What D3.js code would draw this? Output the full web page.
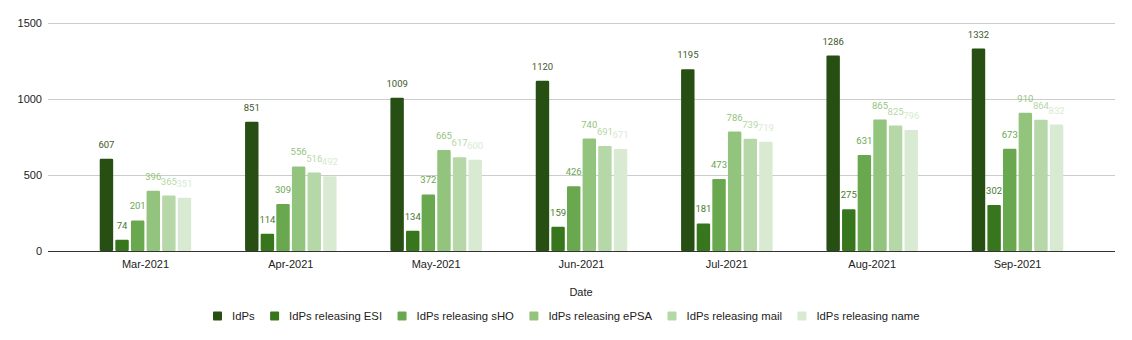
<!DOCTYPE html>
<html>
<head>
<meta charset="utf-8">
<script src="https://cdn.jsdelivr.net/npm/d3@7"></script>
<style>
  html, body { margin: 0; padding: 0; background: #fff; }
  svg { display: block; }
</style>
</head>
<body>
<svg id="chart" width="1132" height="340"></svg>
<script>
const months = ["Mar-2021", "Apr-2021", "May-2021", "Jun-2021", "Jul-2021", "Aug-2021", "Sep-2021"];
const seriesNames = ["IdPs", "IdPs releasing ESI", "IdPs releasing sHO", "IdPs releasing ePSA", "IdPs releasing mail", "IdPs releasing name"];
const idps = [607, 851, 1009, 1120, 1195, 1286, 1332];
const esi = [74, 114, 134, 159, 181, 275, 302];
const sho = [201, 309, 372, 426, 473, 631, 673];
const epsa = [396, 556, 665, 740, 786, 865, 910];
const mail = [365, 516, 617, 691, 739, 825, 864];
const name = [351, 492, 600, 671, 719, 796, 832];
const yTicks = [0, 500, 1000, 1500];
const colors = ["#274e13", "#38761d", "#6aa84f", "#93c47d", "#b6d7a8", "#d9ead3"];
const labelColors = ["#3b5a2a", "#4a7a30", "#6aa84f", "#93c47d", "#b6d7a8", "#d9ead3"];

const seriesValues = [idps, esi, sho, epsa, mail, name];

const svg = d3.select("#chart");
const plotLeft = 48, plotRight = 1115;

const y = d3.scaleLinear().domain([0, 1500]).range([251, 23]);
const x0 = d3.scaleBand().domain(months).range([72.8, 1090.2]).padding(0);
const groupW = 91.5;
const x1 = d3.scaleBand().domain(seriesNames).range([0, groupW]).paddingInner(0.14).paddingOuter(0);

// gridlines
svg.append("g").selectAll("line").data(yTicks.filter(d => d !== 0)).join("line")
  .attr("x1", plotLeft).attr("x2", plotRight)
  .attr("y1", d => y(d)).attr("y2", d => y(d))
  .attr("stroke", "#cccccc").attr("stroke-width", 1).attr("shape-rendering", "crispEdges");

// y labels
svg.append("g").selectAll("text").data(yTicks).join("text")
  .attr("x", 42).attr("y", d => y(d)).attr("dy", "0.35em")
  .attr("text-anchor", "end")
  .attr("font-family", "Arial, 'Liberation Sans', sans-serif").attr("font-size", 11)
  .attr("fill", "#222").text(d => d);

// bars
const groups = svg.append("g").selectAll("g").data(months).join("g")
  .attr("transform", m => `translate(${x0(m) + x0.bandwidth() / 2 - groupW / 2},0)`);

groups.each(function(m, i) {
  const g = d3.select(this);
  seriesNames.forEach((s, k) => {
    const v = seriesValues[k][i];
    g.append("rect")
      .attr("x", x1(s)).attr("width", x1.bandwidth())
      .attr("y", y(v)).attr("height", y(0) - y(v))
      .attr("rx", 1.2).attr("ry", 1.2)
      .attr("fill", colors[k]);
    g.append("text")
      .attr("x", x1(s) + x1.bandwidth() / 2)
      .attr("y", y(v) - 11)
      .attr("text-anchor", "middle")
      .attr("font-family", "Roboto, Arial, sans-serif").attr("font-size", 9.5)
      .attr("fill", labelColors[k])
      .text(v);
  });
});

// baseline
svg.append("line").attr("x1", plotLeft).attr("x2", plotRight)
  .attr("y1", y(0) + 0.5).attr("y2", y(0) + 0.5)
  .attr("stroke", "#333").attr("stroke-width", 1);

// x labels
svg.append("g").selectAll("text").data(months).join("text")
  .attr("x", m => x0(m) + x0.bandwidth() / 2).attr("y", 267.5)
  .attr("text-anchor", "middle")
  .attr("font-family", "Arial, 'Liberation Sans', sans-serif").attr("font-size", 11)
  .attr("fill", "#222").text(m => m);

// axis title
svg.append("text").attr("x", 581).attr("y", 296).attr("text-anchor", "middle")
  .attr("font-family", "Arial, 'Liberation Sans', sans-serif").attr("font-size", 11)
  .attr("fill", "#222").text("Date");

// legend
const legend = svg.append("g").attr("transform", "translate(0,316)");
let lx = 213;
seriesNames.forEach((s, k) => {
  legend.append("rect").attr("x", lx).attr("y", -4.5).attr("width", 9).attr("height", 9)
    .attr("rx", 1).attr("fill", colors[k]);
  const t = legend.append("text").attr("x", lx + 19).attr("y", 0).attr("dy", "0.35em")
    .attr("font-family", "Arial, 'Liberation Sans', sans-serif").attr("font-size", 11.3)
    .attr("fill", "#222").text(s);
  const w = t.node().getComputedTextLength();
  lx = lx + 19 + w + 15.5;
});
</script>
</body>
</html>
